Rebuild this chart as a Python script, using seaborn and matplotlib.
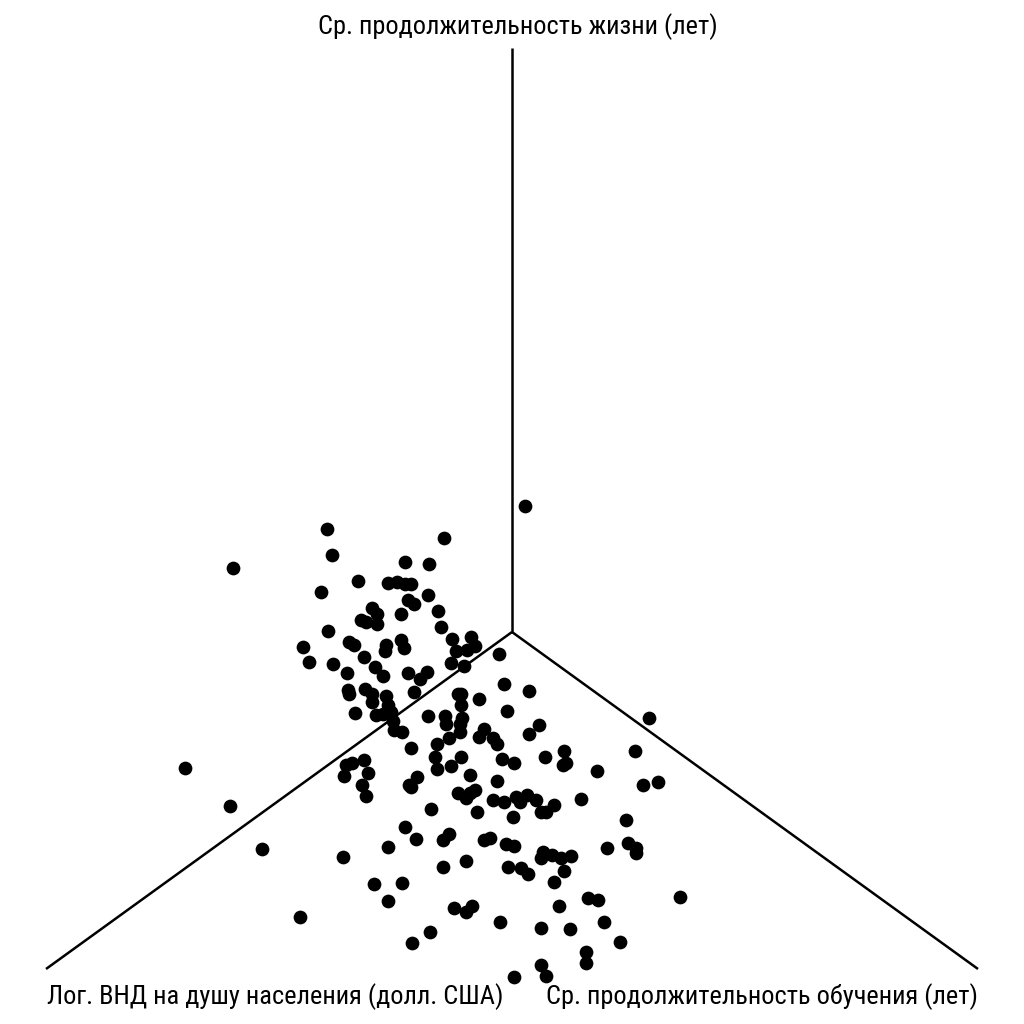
import matplotlib
matplotlib.use("Agg")
import matplotlib.pyplot as plt
import seaborn as sns
import pandas as pd

axis_labels = ["Ср. продолжительность жизни (лет)",
               "Лог. ВНД на душу населения (долл. США)",
               "Ср. продолжительность обучения (лет)"]
center = (512, 632)
axis_ends_x = [512, 46, 978]
axis_ends_y = [48, 969, 969]

pts_x = [525,327,444,332,405,429,233,358,388,397,405,411,321,428,408,414,372,377,438,401,361,366,377,441,328,349,354,386,401,404,385,452,471,475,456,467,303,364,309,333,375,347,451,464,408,427,420,383,499,504,529,348,349,365,372,386,372,388,414,458,461,479,461,355,376,383,391,428,445,462,446,460,507,539,393,394,402,484,479,493,497,529,449,437,460,411,564,635,649,435,502,514,545,563,566,451,461,437,364,352,346,344,368,470,597,658,643,185,497,417,409,411,362,366,475,458,470,466,493,504,516,520,527,536,581,554,541,546,230,431,477,513,626,405,449,443,416,484,490,506,514,628,636,636,607,388,262,543,541,552,561,571,343,466,508,521,528,443,564,402,374,554,388,680,588,598,559,300,454,472,466,500,604,541,570,430,412,620,586,586,541,514,546]
pts_y = [506,529,538,555,562,564,568,581,583,582,584,584,592,595,600,604,608,614,611,614,620,622,624,627,631,642,645,645,640,648,651,639,637,646,651,650,647,657,662,664,667,673,663,666,673,672,679,676,654,684,691,690,694,689,694,696,702,705,692,694,694,699,705,713,715,714,712,716,716,718,724,724,711,725,721,730,732,729,737,738,744,734,738,744,732,748,751,751,718,757,759,763,757,765,763,766,757,769,760,763,765,776,773,775,771,782,785,768,781,777,785,787,785,796,790,793,793,798,800,802,797,802,795,800,799,805,812,812,806,809,812,817,820,827,834,840,839,840,838,844,846,843,848,853,848,847,849,852,858,855,858,856,857,861,867,868,874,867,871,883,884,882,901,897,898,900,906,917,908,906,912,922,922,928,929,932,943,942,952,963,965,977,976]

sns.set_theme(style="white")
plt.rcParams['font.family'] = ['Roboto Condensed', 'PT Sans Narrow', 'Liberation Sans', 'DejaVu Sans']

fig = plt.figure(figsize=(10.24, 10.24), dpi=100)
ax = fig.add_axes([0, 0, 1, 1])
df = pd.DataFrame({"x": pts_x, "y": pts_y})
sns.scatterplot(data=df, x="x", y="y", ax=ax, color="black", s=98, linewidth=0, legend=False, zorder=3)
for ex, ey in zip(axis_ends_x, axis_ends_y):
    ax.plot([center[0], ex], [center[1], ey], color="black", lw=1.8, solid_capstyle="butt")
ax.set_xlim(0, 1024)
ax.set_ylim(1024, 0)
ax.axis("off")
fs = 19
ax.text(518, 27, axis_labels[0], ha="center", va="center", fontsize=fs, color="black")
ax.text(275, 997, axis_labels[1], ha="center", va="center", fontsize=fs, color="black")
ax.text(762.5, 997, axis_labels[2], ha="center", va="center", fontsize=fs, color="black")
fig.savefig("out.png", dpi=100, facecolor="white")
